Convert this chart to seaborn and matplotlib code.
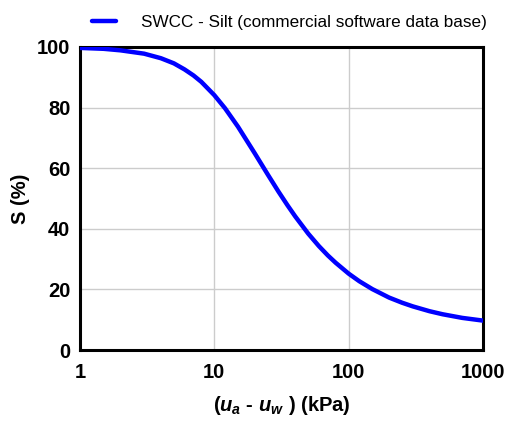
import numpy as np
import pandas as pd
import matplotlib
matplotlib.use("Agg")
import matplotlib.pyplot as plt
import seaborn as sns

# suction (kPa) and degree of saturation (%)
suction = [1, 1.5, 2, 3, 4, 5, 6, 7, 8, 10, 12, 15, 20, 25, 30, 35, 40, 50, 60, 70, 80,
           100, 120, 150, 200, 250, 300, 400, 500, 700, 1000]
saturation = [99.7, 99.4, 98.9, 97.8, 96.3, 94.6, 92.6, 90.6, 88.5, 84.1, 79.8, 73.7, 64.9,
              57.9, 52.3, 47.8, 44.1, 38.4, 34.3, 31.2, 28.8, 25.2, 22.7, 20.1, 17.3, 15.6,
              14.4, 12.8, 11.8, 10.6, 9.7]
series_name = "SWCC - Silt (commercial software data base)"
x_ticks = [1, 10, 100, 1000]
y_ticks = [0, 20, 40, 60, 80, 100]

df = pd.DataFrame({"suction": suction, "S": saturation, "series": series_name})

sns.set_style("white")
plt.rcParams["font.family"] = ["Liberation Sans", "DejaVu Sans"]
plt.rcParams["text.color"] = "black"
plt.rcParams["axes.labelcolor"] = "black"
plt.rcParams["mathtext.fontset"] = "custom"
plt.rcParams["mathtext.it"] = "Liberation Sans:italic:bold"
plt.rcParams["mathtext.rm"] = "Liberation Sans:bold"

fig = plt.figure(figsize=(5.15, 4.28), dpi=100)
ax = fig.add_axes([80 / 515, 1 - 350 / 428, 403 / 515, 303 / 428])

sns.lineplot(data=df, x="suction", y="S", hue="series", palette=["#0000ff"],
             linewidth=3.2, ax=ax, zorder=5)

ax.set_xscale("log")
ax.set_xlim(1, 1000)
ax.set_ylim(0, 100)
ax.set_xticks(x_ticks)
ax.set_xticklabels([str(t) for t in x_ticks])
ax.set_yticks(y_ticks)
ax.xaxis.set_minor_locator(matplotlib.ticker.NullLocator())
ax.grid(True, color="#cccccc", linewidth=1)
ax.tick_params(direction="in", length=8, width=1.5, labelsize=14.5, pad=9, colors="black")
ax.tick_params(axis="y", pad=7)
for lab in ax.get_xticklabels() + ax.get_yticklabels():
    lab.set_fontweight("bold")
for sp in ax.spines.values():
    sp.set_linewidth(2.2)
    sp.set_color("black")

ax.set_xlabel(r"$\mathit{(u_a}$ - $\mathit{u_w\ )}$ (kPa)", fontsize=14.5, fontweight="bold",
              labelpad=9, color="black")
ax.set_ylabel("S (%)", fontsize=14.5, fontweight="bold", labelpad=5, color="black")

leg = ax.legend(loc="lower center", bbox_to_anchor=(0.52, 1.035), frameon=False,
                fontsize=12.3, handlelength=1.4, handletextpad=1.5, title=None,
                borderaxespad=0)
for line in leg.get_lines():
    line.set_linewidth(3.2)
for t in leg.get_texts():
    t.set_color("black")

fig.savefig("out.png", dpi=100)
